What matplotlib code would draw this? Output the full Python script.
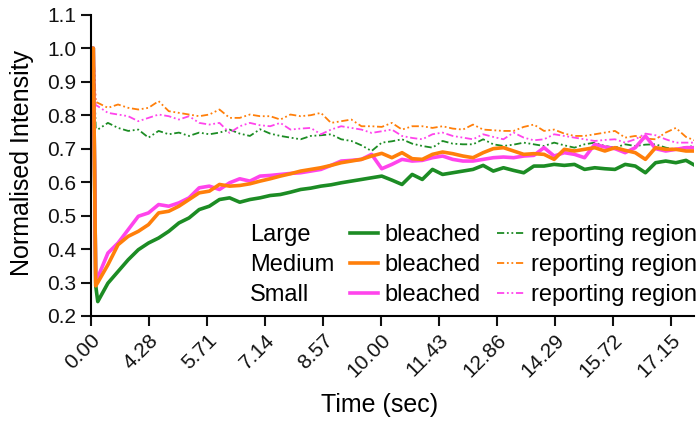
import matplotlib
matplotlib.use("Agg")
import matplotlib.pyplot as plt
from matplotlib.lines import Line2D
import numpy as np

plt.rcParams['font.family'] = ['Liberation Sans', 'DejaVu Sans']

# time (sec): pre-bleach points, bleach, then sampled recovery
t_pre = [0.0, 0.06, 0.12]
t_post = list(np.round(np.linspace(0.17, 14.92, 60), 3))
time = t_pre + t_post

# bleached regions
large_bl = [1.0, 1.0, 0.29,
            0.243, 0.298, 0.333, 0.368, 0.398, 0.418, 0.433, 0.453, 0.478, 0.493,
            0.518, 0.528, 0.548, 0.553, 0.540, 0.548, 0.553, 0.560, 0.563, 0.570,
            0.578, 0.582, 0.588, 0.592, 0.598, 0.603, 0.608, 0.613, 0.618, 0.606,
            0.593, 0.623, 0.608, 0.638, 0.623, 0.628, 0.633, 0.638, 0.650, 0.633,
            0.643, 0.635, 0.628, 0.648, 0.648, 0.653, 0.650, 0.653, 0.638, 0.643,
            0.640, 0.638, 0.653, 0.648, 0.628, 0.658, 0.663, 0.658, 0.665, 0.648]
medium_bl = [1.0, 1.0, 0.29,
             0.300, 0.353, 0.413, 0.438, 0.453, 0.473, 0.508, 0.513, 0.528, 0.548,
             0.568, 0.573, 0.593, 0.588, 0.590, 0.595, 0.603, 0.610, 0.618, 0.625,
             0.633, 0.638, 0.643, 0.650, 0.658, 0.663, 0.668, 0.678, 0.686, 0.673,
             0.688, 0.670, 0.668, 0.683, 0.690, 0.685, 0.678, 0.673, 0.688, 0.700,
             0.703, 0.693, 0.683, 0.685, 0.683, 0.668, 0.698, 0.693, 0.698, 0.703,
             0.693, 0.703, 0.695, 0.688, 0.668, 0.703, 0.698, 0.698, 0.693, 0.693]
small_bl = [1.0, 1.0, 0.30,
            0.315, 0.388, 0.418, 0.458, 0.498, 0.508, 0.533, 0.528, 0.538, 0.553,
            0.583, 0.588, 0.578, 0.598, 0.610, 0.603, 0.618, 0.620, 0.623, 0.626,
            0.628, 0.633, 0.638, 0.650, 0.663, 0.665, 0.668, 0.683, 0.640, 0.653,
            0.668, 0.663, 0.665, 0.673, 0.678, 0.668, 0.663, 0.663, 0.668, 0.673,
            0.675, 0.673, 0.678, 0.680, 0.703, 0.678, 0.688, 0.683, 0.673, 0.713,
            0.705, 0.700, 0.688, 0.703, 0.738, 0.700, 0.693, 0.698, 0.703, 0.703]

# reporting regions
large_rep = [1.0, 1.0, 0.76,
             0.757, 0.777, 0.762, 0.753, 0.757, 0.733, 0.753, 0.743, 0.748, 0.738,
             0.748, 0.743, 0.748, 0.757, 0.745, 0.738, 0.758, 0.745, 0.738, 0.733,
             0.728, 0.738, 0.740, 0.743, 0.728, 0.723, 0.710, 0.693, 0.718, 0.722,
             0.728, 0.715, 0.708, 0.703, 0.723, 0.715, 0.713, 0.713, 0.728, 0.713,
             0.708, 0.712, 0.718, 0.713, 0.708, 0.718, 0.710, 0.703, 0.713, 0.718,
             0.708, 0.703, 0.713, 0.708, 0.712, 0.713, 0.703, 0.698, 0.705, 0.708]
medium_rep = [1.0, 1.0, 0.84,
              0.837, 0.822, 0.832, 0.822, 0.817, 0.822, 0.842, 0.812, 0.807, 0.802,
              0.797, 0.802, 0.817, 0.792, 0.792, 0.802, 0.797, 0.797, 0.787, 0.802,
              0.797, 0.800, 0.807, 0.777, 0.782, 0.787, 0.767, 0.767, 0.765, 0.777,
              0.757, 0.767, 0.767, 0.762, 0.767, 0.760, 0.757, 0.772, 0.757, 0.755,
              0.753, 0.753, 0.765, 0.772, 0.753, 0.757, 0.745, 0.738, 0.738, 0.743,
              0.748, 0.753, 0.733, 0.738, 0.730, 0.728, 0.748, 0.762, 0.735, 0.723]
small_rep = [1.0, 1.0, 0.83,
             0.827, 0.807, 0.802, 0.797, 0.782, 0.792, 0.802, 0.797, 0.787, 0.797,
             0.777, 0.772, 0.777, 0.747, 0.767, 0.777, 0.770, 0.767, 0.777, 0.757,
             0.760, 0.762, 0.743, 0.757, 0.767, 0.762, 0.757, 0.747, 0.752, 0.757,
             0.738, 0.732, 0.728, 0.743, 0.748, 0.738, 0.733, 0.728, 0.743, 0.735,
             0.728, 0.748, 0.733, 0.725, 0.728, 0.743, 0.738, 0.733, 0.728, 0.723,
             0.726, 0.728, 0.718, 0.728, 0.745, 0.740, 0.728, 0.718, 0.718, 0.718]

xtick_labels = ['0.00', '4.28', '5.71', '7.14', '8.57', '10.00',
                '11.43', '12.86', '14.29', '15.72', '17.15']
tick_step = 1.43

green = '#1c8c24'
orange = '#ff7f0a'
magenta = '#ff44ec'
repstyle = (0, (4, 1.5, 1, 1.5, 1, 1.5))

fig = plt.figure(figsize=(6.99, 4.23), dpi=100)
ax = fig.add_axes([0.130, 0.253, 0.863, 0.712])

ax.plot(time, large_rep, color=green, lw=1.3, ls=repstyle)
ax.plot(time, small_rep, color=magenta, lw=1.3, ls=repstyle)
ax.plot(time, medium_rep, color=orange, lw=1.3, ls=repstyle)
ax.plot(time, large_bl, color=green, lw=2.6)
ax.plot(time, small_bl, color=magenta, lw=2.6)
ax.plot(time, medium_bl, color=orange, lw=2.6)

ax.set_xlim(0, 14.87)
ax.set_ylim(0.2, 1.1)
ax.set_yticks(np.round(np.arange(0.2, 1.101, 0.1), 1))
ax.set_yticklabels([f'{v:.1f}' for v in np.arange(0.2, 1.101, 0.1)])
ax.set_xticks([i * tick_step for i in range(len(xtick_labels))])
ax.set_xticklabels(xtick_labels, rotation=45, ha='right', va='top',
                   rotation_mode='anchor')

for s in ['top', 'right']:
    ax.spines[s].set_visible(False)
for s in ['left', 'bottom']:
    ax.spines[s].set_linewidth(1.5)
ax.tick_params(width=1.5, length=7, labelsize=15, colors='#111111')
ax.set_xlabel('Time (sec)', fontsize=18)
ax.set_ylabel('Normalised Intensity', fontsize=18)
ax.xaxis.set_label_coords(0.479, -0.255)
ax.yaxis.set_label_coords(-0.095, 0.507)

blank = Line2D([], [], color='none')
handles = [blank, blank, blank,
           Line2D([], [], color=green, lw=2.6),
           Line2D([], [], color=orange, lw=2.6),
           Line2D([], [], color=magenta, lw=2.6),
           Line2D([], [], color=green, lw=1.3, ls=repstyle),
           Line2D([], [], color=orange, lw=1.3, ls=repstyle),
           Line2D([], [], color=magenta, lw=1.3, ls=repstyle)]
labels = ['Large', 'Medium', 'Small',
          'bleached', 'bleached', 'bleached',
          'reporting region', 'reporting region', 'reporting region']
ax.legend(handles, labels, ncol=3, frameon=False, fontsize=17,
          loc='lower right', bbox_to_anchor=(1.0245, -0.006),
          handlelength=1.15, handletextpad=0.3, columnspacing=0.68,
          labelspacing=0.34, borderpad=0)

fig.savefig('out.png', dpi=100)
